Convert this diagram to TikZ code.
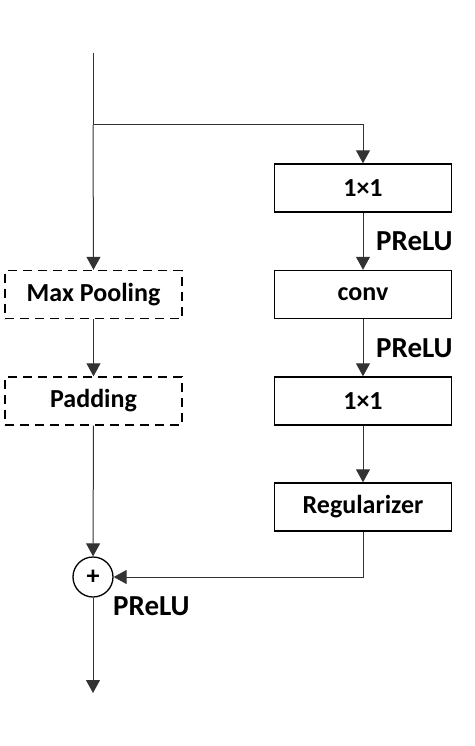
\documentclass[tikz,border=0pt]{standalone}
\usepackage{fontspec}
\setmainfont{Carlito}
\usetikzlibrary{arrows.meta}
\begin{document}
\begin{tikzpicture}[x=1pt,y=-1pt,
  box/.style={draw=black,line width=1.4pt,minimum width=177pt,minimum height=48pt,inner sep=0pt,font=\fontsize{26}{30}\selectfont\bfseries},
  dbox/.style={box,dash pattern=on 9pt off 6pt},
  conn/.style={line width=1pt,draw=black!80,-{Triangle[width=14pt,length=13pt]}},
  plain/.style={line width=1pt,draw=black!80},
  lbl/.style={font=\fontsize{29}{32}\selectfont\bfseries,anchor=base west,inner sep=0pt},
  sumnode/.style={draw=black,line width=1.3pt,circle,minimum size=40pt,inner sep=0pt,font=\fontsize{26}{26}\selectfont\bfseries}]
\useasboundingbox (0,0) rectangle (474,746);
\coordinate (in) at (93,53);
\coordinate (split) at (93,125);
\node[box] (c1) at (363,188) {1×1};
\node[box] (conv) at (363,294.5) {conv};
\node[box] (c2) at (363,401) {1×1};
\node[box] (reg) at (363,507) {Regularizer};
\node[dbox] (mp) at (93.5,294.5) {Max Pooling};
\node[dbox] (pad) at (93.5,401) {Padding};
\node[sumnode] (sum) at (93,577) {+};
\coordinate (out) at (93,693);
\coordinate (corner) at (363,577);
\node[lbl] (p1) at (376,250) {PReLU};
\node[lbl] (p2) at (376,357) {PReLU};
\node[lbl] (p3) at (113,615) {PReLU};
\draw[plain] (in) -- (split);
\draw[conn] (split) -- (split -| c1.north) -- (c1.north);
\draw[conn] (split) -- (mp.north);
\draw[conn] (c1) -- (conv);
\draw[conn] (conv) -- (c2);
\draw[conn] (c2) -- (reg);
\draw[conn] (mp) -- (pad);
\draw[conn] (pad) -- (sum);
\draw[conn] (reg.south) -- (corner) -- (sum.east);
\draw[conn] (sum) -- (out);
\end{tikzpicture}
\end{document}
